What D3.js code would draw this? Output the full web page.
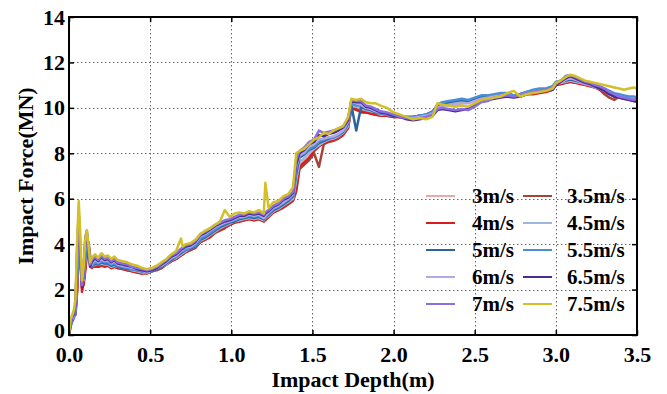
<!DOCTYPE html>
<html>
<head>
<meta charset="utf-8">
<script src="https://cdn.jsdelivr.net/npm/d3@7"></script>
<style>
  body { margin: 0; background: #fff; }
  svg { display: block; }
</style>
</head>
<body>
<svg id="chart" width="667" height="394"></svg>
<script>
// Impact depth (m) shared by every velocity record
const depth = [
  0, 0.01, 0.02, 0.03, 0.04, 0.05, 0.06, 0.07, 0.08, 0.09,
  0.10, 0.11, 0.12, 0.13, 0.14, 0.16, 0.18, 0.20, 0.22, 0.24,
  0.26, 0.28, 0.30, 0.33, 0.36, 0.39, 0.42, 0.45, 0.48, 0.51,
  0.54, 0.57, 0.60, 0.63, 0.66, 0.69, 0.70, 0.72, 0.75, 0.78,
  0.81, 0.84, 0.87, 0.90, 0.93, 0.96, 0.99, 1.02, 1.05, 1.08,
  1.11, 1.14, 1.17, 1.20, 1.21, 1.23, 1.26, 1.29, 1.32, 1.35,
  1.38, 1.40, 1.42, 1.45, 1.48, 1.51, 1.54, 1.57, 1.60, 1.63,
  1.66, 1.69, 1.72, 1.74, 1.77, 1.80, 1.83, 1.86, 1.89, 1.92,
  1.96, 2.00, 2.04, 2.08, 2.12, 2.16, 2.20, 2.24, 2.27, 2.30,
  2.34, 2.38, 2.42, 2.46, 2.50, 2.54, 2.58, 2.62, 2.66, 2.70,
  2.74, 2.78, 2.82, 2.86, 2.90, 2.94, 2.98, 3.00, 3.03, 3.06,
  3.09, 3.12, 3.15, 3.18, 3.21, 3.24, 3.27, 3.30, 3.33, 3.36,
  3.39, 3.42, 3.45, 3.48, 3.50
];

// Impact force (MN) for each impact velocity
const force3 = [
  0, 0.5, 0.7, 0.8, 1.0, 2.0, 3.8, 3.6, 2.3, 2.3,
  2.9, 3.6, 4.1, 3.4, 3.0, 3.05, 3.05, 3.1, 3.05, 3.1,
  3.0, 3.05, 3.0, 2.95, 2.9, 2.85, 2.8, 2.75, 2.75, 2.8,
  2.9, 3.0, 3.1, 3.25, 3.4, 3.55, 3.6, 3.7, 3.8, 3.9,
  4.15, 4.25, 4.4, 4.55, 4.65, 4.75, 4.9, 5.0, 5.05, 5.1,
  5.15, 5.1, 5.15, 5.05, 5.1, 5.25, 5.45, 5.55, 5.65, 5.8,
  5.95, 6.4, 7.5, 7.7, 7.85, 8.2, 8.35, 8.5, 8.6, 8.6,
  8.7, 8.85, 9.2, 10.05, 10.0, 9.95, 9.85, 9.8, 9.75, 9.7,
  9.7, 9.65, 9.6, 9.6, 9.6, 9.65, 9.7, 9.8, 10.1, 10.2,
  10.25, 10.3, 10.35, 10.3, 10.4, 10.5, 10.5, 10.55, 10.6, 10.6,
  10.55, 10.6, 10.65, 10.7, 10.75, 10.8, 10.85, 11.05, 11.1, 11.15,
  11.2, 11.15, 11.1, 11.05, 11.0, 10.9, 10.85, 10.75, 10.65, 10.55,
  10.5, 10.45, 10.45, 10.4, 10.4
];
const force35 = [
  0, 0.6, 0.8, 0.8, 0.9, 1.9, 3.6, 3.5, 2.2, 2.2,
  2.8, 3.5, 4.1, 3.5, 3.0, 3.0, 3.0, 3.05, 3.0, 3.05,
  2.95, 3.0, 2.95, 2.9, 2.85, 2.8, 2.75, 2.75, 2.7, 2.8,
  2.85, 2.95, 3.1, 3.25, 3.35, 3.5, 3.55, 3.65, 3.75, 3.85,
  4.1, 4.2, 4.3, 4.5, 4.6, 4.7, 4.85, 4.95, 5.0, 5.05,
  5.1, 5.05, 5.1, 5.0, 5.05, 5.2, 5.4, 5.5, 5.6, 5.75,
  5.9, 6.3, 7.3, 7.5, 7.7, 8.0, 7.4, 8.4, 8.5, 8.55,
  8.65, 8.8, 9.1, 10.0, 9.9, 9.85, 9.8, 9.75, 9.7, 9.7,
  9.65, 9.6, 9.6, 9.55, 9.55, 9.6, 9.7, 9.85, 10.1, 10.2,
  10.25, 10.3, 10.3, 10.25, 10.35, 10.45, 10.5, 10.5, 10.55, 10.6,
  10.55, 10.6, 10.65, 10.7, 10.7, 10.75, 10.8, 11.0, 11.05, 11.1,
  11.15, 11.1, 11.1, 11.05, 11.0, 10.95, 10.8, 10.6, 10.45, 10.35,
  10.5, 10.4, 10.35, 10.3, 10.25
];
const force4 = [
  0, 0.6, 0.7, 0.8, 0.9, 2.1, 3.9, 3.4, 1.9, 2.3,
  3.0, 3.7, 4.0, 3.4, 2.95, 3.05, 3.0, 3.1, 3.05, 3.05,
  2.95, 3.0, 2.95, 2.9, 2.85, 2.8, 2.75, 2.7, 2.75, 2.8,
  2.9, 2.95, 3.1, 3.25, 3.35, 3.5, 3.55, 3.65, 3.75, 3.85,
  4.1, 4.2, 4.35, 4.5, 4.65, 4.75, 4.85, 4.95, 5.0, 5.05,
  5.1, 5.05, 5.1, 5.0, 5.1, 5.2, 5.4, 5.5, 5.65, 5.8,
  5.95, 6.5, 7.4, 7.6, 7.8, 8.1, 8.3, 8.45, 8.55, 8.6,
  8.7, 8.85, 9.15, 10.0, 9.95, 9.8, 9.8, 9.75, 9.7, 9.65,
  9.65, 9.6, 9.6, 9.6, 9.6, 9.65, 9.7, 9.8, 10.0, 10.1,
  10.2, 10.25, 10.3, 10.3, 10.35, 10.45, 10.45, 10.5, 10.55, 10.55,
  10.5, 10.5, 10.6, 10.6, 10.65, 10.7, 10.8, 11.0, 11.05, 11.1,
  11.15, 11.1, 11.05, 11.0, 10.95, 10.9, 10.8, 10.7, 10.6, 10.5,
  10.45, 10.4, 10.4, 10.35, 10.35
];
const force45 = [
  0, 0.4, 0.6, 0.7, 1.0, 2.4, 4.2, 3.6, 2.5, 2.4,
  3.2, 3.9, 4.0, 3.3, 3.0, 3.1, 3.1, 3.15, 3.1, 3.1,
  3.0, 3.05, 3.0, 2.95, 2.9, 2.85, 2.8, 2.75, 2.75, 2.8,
  2.9, 3.0, 3.1, 3.3, 3.4, 3.55, 3.6, 3.7, 3.8, 3.9,
  4.15, 4.25, 4.4, 4.55, 4.7, 4.8, 4.9, 5.0, 5.05, 5.1,
  5.15, 5.1, 5.15, 5.05, 5.15, 5.25, 5.45, 5.55, 5.7, 5.85,
  6.0, 6.8, 7.6, 7.8, 8.0, 8.2, 8.35, 8.5, 8.6, 8.65,
  8.75, 8.9, 9.2, 10.1, 10.05, 10.0, 9.9, 9.85, 9.8, 9.7,
  9.7, 9.65, 9.6, 9.6, 9.6, 9.65, 9.7, 9.8, 10.05, 10.15,
  10.2, 10.25, 10.3, 10.3, 10.35, 10.45, 10.5, 10.5, 10.55, 10.6,
  10.5, 10.55, 10.65, 10.7, 10.75, 10.75, 10.85, 11.05, 11.1, 11.15,
  11.2, 11.15, 11.1, 11.05, 11.0, 10.9, 10.85, 10.75, 10.65, 10.55,
  10.5, 10.45, 10.45, 10.4, 10.4
];
const force5 = [
  0, 0.4, 0.6, 0.8, 1.0, 2.6, 4.4, 3.7, 2.4, 2.5,
  3.4, 4.0, 3.9, 3.2, 3.0, 3.15, 3.1, 3.2, 3.15, 3.15,
  3.05, 3.1, 3.0, 2.95, 2.9, 2.9, 2.85, 2.8, 2.75, 2.8,
  2.9, 3.0, 3.15, 3.3, 3.45, 3.6, 3.65, 3.75, 3.8, 3.9,
  4.2, 4.3, 4.45, 4.6, 4.75, 4.85, 4.95, 5.0, 5.1, 5.15,
  5.2, 5.15, 5.2, 5.1, 5.2, 5.3, 5.5, 5.6, 5.75, 5.9,
  6.1, 7.1, 7.8, 7.95, 8.15, 8.25, 8.45, 8.55, 8.65, 8.7,
  8.8, 8.95, 9.3, 10.1, 9.0, 10.05, 9.95, 9.9, 9.8, 9.75,
  9.7, 9.65, 9.6, 9.6, 9.6, 9.65, 9.7, 9.8, 10.1, 10.2,
  10.25, 10.3, 10.35, 10.3, 10.4, 10.5, 10.5, 10.55, 10.6, 10.6,
  10.55, 10.6, 10.7, 10.75, 10.8, 10.8, 10.9, 11.1, 11.15, 11.2,
  11.25, 11.2, 11.15, 11.05, 11.0, 10.95, 10.9, 10.8, 10.7, 10.6,
  10.55, 10.5, 10.45, 10.45, 10.4
];
const force55 = [
  0, 0.4, 0.7, 0.8, 1.1, 2.9, 4.6, 3.5, 2.3, 2.6,
  3.6, 4.2, 3.9, 3.1, 3.05, 3.2, 3.15, 3.25, 3.2, 3.2,
  3.1, 3.15, 3.05, 3.0, 2.95, 2.9, 2.85, 2.8, 2.75, 2.85,
  2.95, 3.05, 3.2, 3.35, 3.45, 3.65, 3.7, 3.75, 3.85, 3.95,
  4.25, 4.35, 4.5, 4.65, 4.8, 4.9, 5.0, 5.05, 5.15, 5.2,
  5.25, 5.2, 5.25, 5.15, 5.2, 5.35, 5.55, 5.65, 5.8, 5.95,
  6.15, 7.3, 7.9, 8.0, 8.2, 8.3, 8.5, 8.6, 8.7, 8.7,
  8.8, 9.0, 9.4, 10.2, 10.1, 10.1, 10.0, 9.95, 9.85, 9.75,
  9.7, 9.65, 9.6, 9.55, 9.6, 9.65, 9.7, 9.8, 10.15, 10.25,
  10.3, 10.35, 10.4, 10.35, 10.45, 10.55, 10.55, 10.6, 10.65, 10.65,
  10.55, 10.6, 10.7, 10.8, 10.85, 10.85, 10.95, 11.15, 11.2, 11.25,
  11.3, 11.25, 11.15, 11.1, 11.05, 11.0, 10.95, 10.85, 10.75, 10.65,
  10.6, 10.55, 10.5, 10.5, 10.45
];
const force6 = [
  0, 0.5, 0.7, 0.9, 1.2, 3.2, 4.9, 3.4, 2.2, 2.7,
  3.9, 4.4, 3.8, 3.0, 3.1, 3.35, 3.2, 3.35, 3.25, 3.3,
  3.15, 3.25, 3.1, 3.05, 3.0, 2.95, 2.9, 2.85, 2.75, 2.85,
  2.95, 3.05, 3.2, 3.4, 3.5, 3.7, 3.75, 3.85, 3.9, 4.05,
  4.35, 4.45, 4.6, 4.75, 4.85, 4.95, 5.0, 5.1, 5.2, 5.2,
  5.3, 5.25, 5.3, 5.15, 5.25, 5.4, 5.6, 5.7, 5.85, 6.0,
  6.2, 7.4, 7.9, 8.05, 8.3, 8.4, 8.6, 8.65, 8.7, 8.75,
  8.85, 9.0, 9.4, 10.3, 10.2, 10.15, 10.0, 9.95, 9.85, 9.8,
  9.75, 9.7, 9.6, 9.55, 9.55, 9.6, 9.65, 9.75, 10.0, 10.1,
  10.1, 10.15, 10.2, 10.2, 10.3, 10.4, 10.45, 10.5, 10.55, 10.55,
  10.5, 10.55, 10.65, 10.7, 10.75, 10.75, 10.85, 11.05, 11.1, 11.25,
  11.3, 11.25, 11.15, 11.05, 11.0, 10.95, 10.85, 10.75, 10.65, 10.55,
  10.5, 10.45, 10.4, 10.4, 10.35
];
const force65 = [
  0, 0.5, 0.8, 0.9, 1.3, 3.6, 5.2, 3.6, 2.1, 2.8,
  4.1, 4.5, 3.7, 3.0, 3.2, 3.4, 3.25, 3.45, 3.3, 3.35,
  3.2, 3.3, 3.15, 3.1, 3.05, 3.0, 2.9, 2.85, 2.8, 2.85,
  2.95, 3.1, 3.25, 3.45, 3.55, 3.75, 3.8, 3.9, 3.95, 4.1,
  4.4, 4.5, 4.65, 4.8, 4.9, 5.0, 5.05, 5.15, 5.25, 5.25,
  5.35, 5.3, 5.35, 5.25, 5.35, 5.45, 5.65, 5.75, 5.95, 6.05,
  6.25, 7.5, 8.0, 8.15, 8.4, 8.5, 8.8, 8.75, 8.85, 8.9,
  9.0, 9.15, 9.45, 10.3, 10.25, 10.25, 10.05, 10.0, 9.9, 9.8,
  9.75, 9.65, 9.6, 9.5, 9.45, 9.5, 9.55, 9.65, 9.9, 9.95,
  9.9, 9.85, 9.9, 9.95, 10.1, 10.3, 10.35, 10.4, 10.45, 10.5,
  10.45, 10.5, 10.6, 10.65, 10.7, 10.75, 10.8, 11.0, 11.15, 11.3,
  11.4, 11.3, 11.2, 11.1, 11.05, 10.95, 10.85, 10.75, 10.6, 10.5,
  10.45, 10.4, 10.35, 10.3, 10.3
];
const force7 = [
  0, 0.6, 0.8, 1.0, 1.4, 3.8, 5.4, 3.8, 2.2, 2.9,
  4.3, 4.6, 3.8, 3.1, 3.3, 3.45, 3.3, 3.5, 3.35, 3.4,
  3.25, 3.35, 3.2, 3.15, 3.1, 3.0, 2.95, 2.9, 2.85, 2.9,
  3.0, 3.15, 3.3, 3.5, 3.6, 3.8, 3.85, 3.95, 4.0, 4.15,
  4.45, 4.55, 4.7, 4.85, 4.95, 5.05, 5.1, 5.2, 5.3, 5.3,
  5.4, 5.35, 5.4, 5.3, 5.4, 5.5, 5.7, 5.8, 6.0, 6.1,
  6.3, 7.7, 8.1, 8.25, 8.5, 8.6, 9.0, 8.9, 8.95, 9.0,
  9.1, 9.2, 9.55, 10.35, 10.3, 10.3, 10.1, 10.05, 9.95, 9.85,
  9.8, 9.7, 9.6, 9.55, 9.5, 9.55, 9.6, 9.7, 9.95, 10.0,
  9.95, 9.9, 9.95, 9.9, 10.05, 10.25, 10.3, 10.45, 10.5, 10.55,
  10.5, 10.55, 10.65, 10.7, 10.75, 10.8, 10.85, 11.05, 11.2, 11.4,
  11.45, 11.35, 11.25, 11.15, 11.1, 11.0, 10.95, 10.85, 10.7, 10.6,
  10.5, 10.45, 10.4, 10.35, 10.4
];
const force75 = [
  0, 0.7, 0.9, 1.1, 1.6, 4.2, 5.9, 4.4, 2.4, 3.0,
  4.2, 4.6, 4.0, 3.2, 3.4, 3.55, 3.4, 3.6, 3.45, 3.5,
  3.35, 3.45, 3.3, 3.25, 3.2, 3.1, 3.05, 2.95, 2.9, 2.95,
  3.05, 3.2, 3.35, 3.55, 3.7, 4.25, 3.9, 4.0, 4.05, 4.2,
  4.45, 4.6, 4.7, 4.85, 5.0, 5.5, 5.2, 5.35, 5.4, 5.35,
  5.45, 5.4, 5.5, 5.35, 6.7, 5.6, 5.85, 5.9, 6.1, 6.2,
  6.5, 8.0, 8.1, 8.2, 8.4, 8.6, 8.7, 8.9, 8.85, 9.0,
  9.1, 9.2, 9.6, 10.4, 10.35, 10.4, 10.25, 10.2, 10.2, 10.1,
  10.0, 9.8, 9.7, 9.6, 9.5, 9.55, 9.5, 9.6, 10.2, 10.15,
  10.1, 10.05, 10.1, 10.05, 10.2, 10.35, 10.4, 10.45, 10.5, 10.65,
  10.75, 10.5, 10.6, 10.65, 10.7, 10.75, 10.85, 11.1, 11.2, 11.35,
  11.45, 11.4, 11.3, 11.2, 11.15, 11.1, 11.05, 11.0, 10.95, 10.9,
  10.85, 10.8, 10.85, 10.9, 10.85
];

const speedLabels = ["3m/s", "3.5m/s", "4m/s", "4.5m/s", "5m/s", "5.5m/s", "6m/s", "6.5m/s", "7m/s", "7.5m/s"];
const speedColors = ["#e9a9a9", "#a3463a", "#dc1c1c", "#9cb9dd", "#2b64a0", "#4a8fd6", "#b5a6e6", "#4b2d8f", "#8b6fe0", "#d2c026"];
const forceSeries = [force3, force35, force4, force45, force5, force55, force6, force65, force7, force75];

const xTicks = [0, 0.5, 1.0, 1.5, 2.0, 2.5, 3.0, 3.5];
const yTicks = [0, 2, 4, 6, 8, 10, 12, 14];

const svg = d3.select("#chart");
const plotLeft = 69, plotRight = 637, plotTop = 17, plotBottom = 335;
const font = "'Liberation Serif', 'Times New Roman', serif";

const x = d3.scaleLinear().domain([0, 3.5]).range([plotLeft, plotRight]);
const y = d3.scaleLinear().domain([0, 14]).range([plotBottom, plotTop]);

svg.append("rect").attr("width", 667).attr("height", 394).attr("fill", "#fff");

// dotted grid
const grid = svg.append("g").attr("stroke", "#666").attr("stroke-width", 1).attr("stroke-dasharray", "1.5,2.5");
grid.selectAll("line.v").data(xTicks.slice(1, -1)).join("line")
  .attr("x1", d => Math.round(x(d)) + 0.5).attr("x2", d => Math.round(x(d)) + 0.5)
  .attr("y1", plotTop).attr("y2", plotBottom);
grid.selectAll("line.h").data(yTicks.slice(1, -1)).join("line")
  .attr("y1", d => Math.round(y(d)) + 0.5).attr("y2", d => Math.round(y(d)) + 0.5)
  .attr("x1", plotLeft).attr("x2", plotRight);

// force-depth curves
const line = d3.line().x((d, i) => x(depth[i])).y(d => y(d));
svg.append("clipPath").attr("id", "plotClip")
  .append("rect").attr("x", plotLeft).attr("y", plotTop)
  .attr("width", plotRight - plotLeft).attr("height", plotBottom - plotTop);
const curves = svg.append("g").attr("clip-path", "url(#plotClip)");
forceSeries.forEach((vals, k) => {
  curves.append("path")
    .attr("d", line(vals.slice(0, depth.length)))
    .attr("fill", "none")
    .attr("stroke", speedColors[k])
    .attr("stroke-width", 2.5)
    .attr("stroke-linejoin", "round");
});

// axes with inward ticks
const xAxis = svg.append("g").attr("transform", `translate(0,${plotBottom})`)
  .call(d3.axisBottom(x).tickValues(xTicks).tickFormat(d3.format(".1f")).tickSizeInner(-5).tickSizeOuter(0).tickPadding(11));
const yAxis = svg.append("g").attr("transform", `translate(${plotLeft},0)`)
  .call(d3.axisLeft(y).tickValues(yTicks).tickFormat(d3.format("d")).tickSizeInner(-5).tickSizeOuter(0).tickPadding(4));
svg.append("g").attr("transform", `translate(${plotRight},0)`)
  .call(d3.axisRight(y).tickValues(yTicks).tickFormat("").tickSizeInner(-5).tickSizeOuter(0));
svg.append("g").attr("transform", `translate(0,${plotTop})`)
  .call(d3.axisTop(x).tickValues(xTicks).tickFormat("").tickSizeInner(-5).tickSizeOuter(0));

svg.selectAll(".domain").remove();
svg.selectAll(".tick line").attr("stroke", "#000").attr("stroke-width", 1.5);
[xAxis, yAxis].forEach(g => g.selectAll("text")
  .attr("font-family", font).attr("font-weight", "bold").attr("font-size", 22).attr("fill", "#000"));
// lift the y "0" a little so it sits clear of the "0.0" below it
yAxis.selectAll(".tick").filter(d => d === 0).select("text").attr("dy", "0.1em");

svg.append("rect")
  .attr("x", plotLeft).attr("y", plotTop).attr("width", plotRight - plotLeft).attr("height", plotBottom - plotTop)
  .attr("fill", "none").attr("stroke", "#000").attr("stroke-width", 2);

// axis titles
svg.append("text")
  .attr("x", (plotLeft + plotRight) / 2).attr("y", 387)
  .attr("text-anchor", "middle")
  .attr("font-family", font).attr("font-weight", "bold").attr("font-size", 22)
  .text("Impact Depth(m)");
svg.append("text")
  .attr("transform", `translate(33,${(plotTop + plotBottom) / 2}) rotate(-90)`)
  .attr("text-anchor", "middle")
  .attr("font-family", font).attr("font-weight", "bold").attr("font-size", 22)
  .text("Impact Force(MN)");

// legend, two columns
const legend = svg.append("g");
speedLabels.forEach((lab, k) => {
  const col = k % 2, row = Math.floor(k / 2);
  const lx = col === 0 ? 426 : 523;
  const ly = 196 + row * 27;
  legend.append("line")
    .attr("x1", lx).attr("x2", lx + 29).attr("y1", ly).attr("y2", ly)
    .attr("stroke", speedColors[k]).attr("stroke-width", 2);
  legend.append("text")
    .attr("x", col === 0 ? 472 : 567).attr("y", ly).attr("dy", "0.35em")
    .attr("font-family", font).attr("font-weight", "bold").attr("font-size", 21)
    .text(lab);
});
</script>
</body>
</html>
